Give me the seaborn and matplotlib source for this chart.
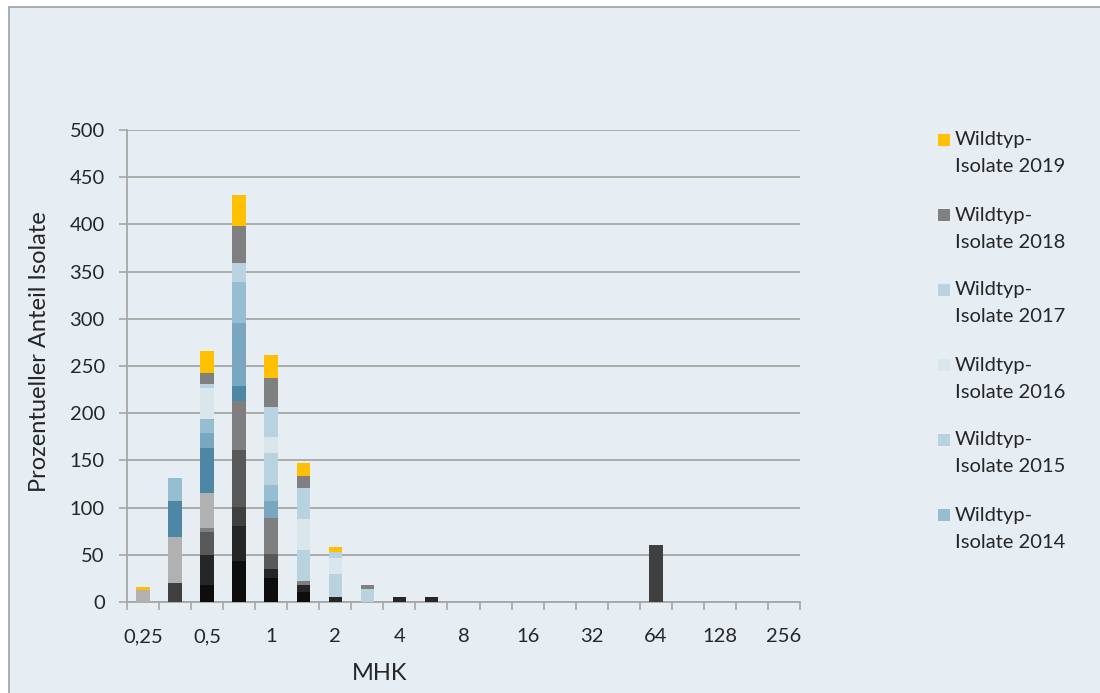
import numpy as np
import pandas as pd
import matplotlib
matplotlib.use("Agg")
import matplotlib.pyplot as plt
from matplotlib.patches import Rectangle
import seaborn as sns

# MIC dilution steps (every other one is labelled)
categories = ["0,25", "0,375", "0,5", "0,75", "1", "1,5", "2", "3", "4", "6", "8",
              "12", "16", "24", "32", "48", "64", "96", "128", "192", "256"]
tick_labels = ["0,25", "0,5", "1", "2", "4", "8", "16", "32", "64", "128", "256"]

years = list(range(2006, 2020))

# Percentage of wild-type isolates per MIC step, one dict per year
wt_2006 = {"0,5": 17.7, "0,75": 43.4, "1": 25.0, "1,5": 11.0}
wt_2007 = {"0,5": 31.7, "0,75": 37.1, "1": 10.0, "1,5": 6.7, "2": 5.6, "4": 5.0, "6": 5.0}
wt_2008 = {"0,375": 19.8, "0,75": 20.1, "64": 60.4}
wt_2009 = {"0,5": 25.1, "0,75": 60.4, "1": 15.8}
wt_2010 = {"0,5": 4.2, "0,75": 52.0, "1": 38.5, "1,5": 4.9}
wt_2011 = {"0,25": 12.7, "0,375": 49.4, "0,5": 36.3}
wt_2012 = {"0,375": 37.4, "0,5": 48.5, "0,75": 16.0}
wt_2013 = {"0,5": 15.5, "0,75": 67.0, "1": 17.7}
wt_2014 = {"0,375": 24.4, "0,5": 14.5, "0,75": 43.0, "1": 16.9}
wt_2015 = {"1": 33.6, "1,5": 32.4, "2": 24.1, "3": 14.0}
wt_2016 = {"0,5": 33.5, "1": 17.3, "1,5": 32.9, "2": 17.3}
wt_2017 = {"0,5": 4.0, "0,75": 20.0, "1": 32.1, "1,5": 32.5, "2": 6.3}
wt_2018 = {"0,5": 12.0, "0,75": 39.6, "1": 30.7, "1,5": 13.4, "3": 4.0}
wt_2019 = {"0,25": 3.5, "0,5": 23.0, "0,75": 32.4, "1": 24.0, "1,5": 13.2, "2": 5.0}

series = [wt_2006, wt_2007, wt_2008, wt_2009, wt_2010, wt_2011, wt_2012,
          wt_2013, wt_2014, wt_2015, wt_2016, wt_2017, wt_2018, wt_2019]

colors = ["#0D0D0D", "#262626", "#404040", "#595959", "#7F7F7F", "#B1B1B1",
          "#4E87A5", "#78A7BF", "#97BDD0", "#B8D3DF", "#D9E6EC", "#B8D3DF",
          "#808080", "#FFC000"]

bg = "#E6EEF4"
grid_c = "#A6A6A6"
text_c = "#262626"

plt.rcParams["font.family"] = ["Lato", "DejaVu Sans"]

W, H = 1100, 693
fig = plt.figure(figsize=(W / 100, H / 100), dpi=100, facecolor="white")
# chart area panel, running off the right and bottom edges
fig.patches.append(Rectangle((9 / W, -0.05), 1.0, 1.05 - 7 / H, transform=fig.transFigure,
                             facecolor=bg, edgecolor="#A0A0A0", linewidth=1.2, zorder=-10))

ax = fig.add_axes([127 / W, 1 - 602 / H, 673 / W, 472 / H])
ax.set_zorder(1)
ax.set_facecolor(bg)

bottom = np.zeros(len(categories))
for yr, data, col in zip(years, series, colors):
    vals = np.array([data.get(c, 0.0) for c in categories])
    sns.barplot(x=categories, y=vals, order=categories, color=col, saturation=1,
                width=0.42, bottom=bottom, errorbar=None, linewidth=0, ax=ax, zorder=3)
    bottom = bottom + vals

ax.set_xlim(-0.5, len(categories) - 0.5)
ax.set_ylim(0, 500)
ax.set_yticks(np.arange(0, 501, 50))
ax.yaxis.grid(True, color=grid_c, linewidth=1.3, zorder=0)
ax.xaxis.grid(False)
ax.set_axisbelow(True)

# labels under every other dilution step, tick marks on the category borders
ax.set_xticks(np.arange(0, len(categories), 2))
ax.set_xticklabels(tick_labels)
ax.set_xticks(np.arange(-0.5, len(categories), 1), minor=True)
ax.tick_params(axis="x", which="major", length=0, pad=19, labelsize=14.5, labelcolor=text_c)
ax.tick_params(axis="x", which="minor", length=6, color=grid_c, width=1.2, direction="out")
ax.tick_params(axis="y", length=6, color=grid_c, width=1.2, pad=10, labelsize=14.5,
               labelcolor=text_c)

for s in ["top", "right"]:
    ax.spines[s].set_visible(False)
for s in ["left", "bottom"]:
    ax.spines[s].set_color(grid_c)
    ax.spines[s].set_linewidth(1.3)

ax.set_xlabel("")
ax.set_ylabel("")
fig.text(40 / W, 1 - 352 / H, "Prozentueller Anteil Isolate", rotation=90,
         ha="center", va="center", fontsize=17, color=text_c)
fig.text(380 / W, 1 - 673 / H, "MHK", ha="center", va="center", fontsize=17,
         color=text_c)

# legend: the six most recent years, newest first; key square beside the first line
for k, i in enumerate(range(13, 7, -1)):
    y0 = 140 + 75 * k
    fig.patches.append(Rectangle((938 / W, 1 - (y0 + 6) / H), 12 / W, 12 / H,
                                 transform=fig.transFigure, facecolor=colors[i],
                                 edgecolor="none", zorder=2))
    fig.text(955 / W, 1 - y0 / H, "Wildtyp-", ha="left", va="center",
             fontsize=14.5, color=text_c)
    fig.text(955 / W, 1 - (y0 + 27) / H, f"Isolate {years[i]}", ha="left", va="center",
             fontsize=14.5, color=text_c)

fig.savefig("out.png", dpi=100, facecolor="white")
